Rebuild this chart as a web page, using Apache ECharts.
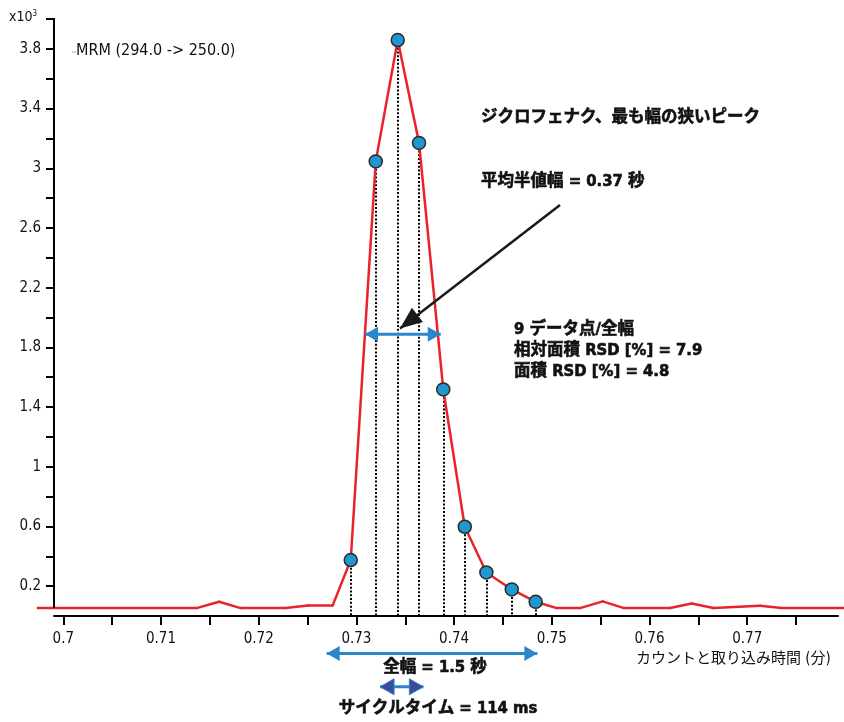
<!DOCTYPE html>
<html>
<head>
<meta charset="utf-8">
<script src="https://cdn.jsdelivr.net/npm/echarts@6/dist/echarts.min.js"></script>
<style>
  html, body { margin: 0; padding: 0; background: #fff; }
  #chart { width: 844px; height: 722px; }
</style>
</head>
<body>
<div id="chart"></div>
<script>
// Acquisition points across the diclofenac peak (time in min, counts x10^3)
const peakTime   = [0.72942, 0.73198, 0.73423, 0.73641, 0.73889, 0.74109, 0.74330, 0.74590, 0.74835];
const peakCounts = [0.375,   3.046,   3.859,   3.170,   1.518,   0.598,   0.292,   0.178,   0.095];

// Baseline trace before and after the peak
const leadTime   = [0.6974, 0.71365, 0.71594, 0.71816, 0.72276, 0.72502, 0.72757];
const leadCounts = [0.053,  0.053,   0.095,   0.053,   0.053,   0.071,   0.071];
const tailTime   = [0.7505, 0.75289, 0.75521, 0.75739, 0.7621, 0.76432, 0.76653, 0.77131, 0.77353, 0.7799];
const tailCounts = [0.053,  0.053,   0.098,   0.053,   0.053,  0.084,   0.053,   0.068,   0.053,   0.053];

// Axis ticks and labelled values
const xTicks      = [0.7, 0.705, 0.71, 0.715, 0.72, 0.725, 0.73, 0.735, 0.74, 0.745, 0.75, 0.755, 0.76, 0.765, 0.77, 0.775];
const xTickLabels = [0.7, 0.71, 0.72, 0.73, 0.74, 0.75, 0.76, 0.77];
const yTicks      = [0.2, 0.4, 0.6, 0.8, 1.0, 1.2, 1.4, 1.6, 1.8, 2.0, 2.2, 2.4, 2.6, 2.8, 3.0, 3.2, 3.4, 3.6, 3.8, 4.0];
const yTickLabels = [0.2, 0.6, 1.0, 1.4, 1.8, 2.2, 2.6, 3.0, 3.4, 3.8];

const NARROW = "'Liberation Sans Narrow', 'DejaVu Sans Condensed', Roboto, sans-serif";
const JP = "'Liberation Sans Narrow', 'DejaVu Sans Condensed', 'Noto Sans CJK JP', sans-serif";
const BLUE = '#2a87c9';
const RED = '#e8232a';
const X_MIN = 0.69905, X_MAX = 0.77929;
const Y_FLOOR = 0.053; // lowest point reached by the vertical axis line

const trace = [];
leadTime.forEach((t, i) => trace.push([t, leadCounts[i]]));
peakTime.forEach((t, i) => trace.push([t, peakCounts[i]]));
tailTime.forEach((t, i) => trace.push([t, tailCounts[i]]));

const points = peakTime.map((t, i) => [t, peakCounts[i]]);
const dropLines = peakTime.map((t, i) => [{ coord: [t, peakCounts[i]] }, { coord: [t, 0] }]);

const fmt = v => String(Math.round(v * 1000) / 1000);

const chart = echarts.init(document.getElementById('chart'), null, { renderer: 'canvas' });

chart.setOption({
  animation: false,
  backgroundColor: '#fff',
  grid: { left: 54, right: 6, top: 19, bottom: 106, containLabel: false },
  xAxis: {
    type: 'value',
    min: X_MIN,
    max: X_MAX,
    splitLine: { show: false },
    axisLine: { show: true, onZero: false, lineStyle: { color: '#000', width: 2 } },
    axisTick: { show: true, customValues: xTicks, length: 9, lineStyle: { color: '#000', width: 2 } },
    axisLabel: { customValues: xTickLabels, formatter: fmt, color: '#111', fontSize: 15, fontFamily: NARROW, margin: 16 }
  },
  yAxis: {
    type: 'value',
    min: 0,
    max: 4,
    splitLine: { show: false },
    axisLine: { show: false },
    axisTick: { show: true, customValues: yTicks, length: 8, lineStyle: { color: '#000', width: 2 } },
    axisLabel: { customValues: yTickLabels, formatter: fmt, color: '#111', fontSize: 15, fontFamily: NARROW, margin: 13 }
  },
  series: [
    {
      // chromatogram trace, drawn segment by segment so it may run past the axis ends
      type: 'custom',
      coordinateSystem: 'cartesian2d',
      clip: false,
      z: 3,
      data: trace,
      encode: { x: 0, y: 1 },
      renderItem: (params, api) => {
        const i = params.dataIndex;
        if (i >= trace.length - 1) return null;
        const a = api.coord(trace[i]);
        const b = api.coord(trace[i + 1]);
        return {
          type: 'line',
          shape: { x1: a[0], y1: a[1], x2: b[0], y2: b[1] },
          style: { stroke: RED, lineWidth: 2.5, lineCap: 'round' }
        };
      },
      markLine: {
        silent: true,
        symbol: ['none', 'none'],
        z: 2,
        label: { show: false },
        lineStyle: { color: '#000', width: 2, type: [2, 1.8] },
        data: dropLines
      }
    },
    {
      type: 'scatter',
      data: points,
      z: 10,
      symbolSize: 13,
      itemStyle: { color: '#1f98d2', borderColor: '#2a2a2a', borderWidth: 1.5, opacity: 1 }
    }
  ]
});

// Arrow helpers
function head(tip, from, len, halfW, fill, stroke) {
  const dx = tip[0] - from[0], dy = tip[1] - from[1];
  const d = Math.hypot(dx, dy);
  const ux = dx / d, uy = dy / d;
  const bx = tip[0] - ux * len, by = tip[1] - uy * len;
  return {
    type: 'polygon',
    shape: { points: [tip, [bx - uy * halfW, by + ux * halfW], [bx + uy * halfW, by - ux * halfW]] },
    style: { fill: fill, stroke: stroke || null, lineWidth: stroke ? 1 : 0 },
    z: 20
  };
}
function shaft(a, b, color, width) {
  return { type: 'line', shape: { x1: a[0], y1: a[1], x2: b[0], y2: b[1] }, style: { stroke: color, lineWidth: width }, z: 19 };
}
function doubleArrow(p1, p2, color, width, len, halfW, headFill, headStroke) {
  return [
    shaft(p1, p2, color, width),
    head(p1, p2, len, halfW, headFill || color, headStroke),
    head(p2, p1, len, halfW, headFill || color, headStroke)
  ];
}
const px = (t, c) => chart.convertToPixel({ gridIndex: 0 }, [t, c]);

const yAxisTop = px(X_MIN, 4), yAxisBottom = px(X_MIN, Y_FLOOR);
const blackTail = px(0.75084, 2.753);
const blackTip = px(0.73446, 1.927);
const fwhmL = px(0.73088, 1.887), fwhmR = px(0.73863, 1.887);
const fullL = px(0.72696, -0.2506), fullR = px(0.74852, -0.2506);
const cycL = px(0.73242, -0.4744), cycR = px(0.73685, -0.4744);

const boldJP = (text, x, y, align) => ({
  type: 'text', x: x, y: y, z: 30,
  style: { text: text, fill: '#111', stroke: '#111', lineWidth: 0.6, font: `bold 16.5px ${JP}`,
    textAlign: align || 'left', textVerticalAlign: 'middle' }
});

const graphics = [
  // vertical axis line, stopping at the baseline level
  { type: 'line', shape: { x1: yAxisTop[0], y1: yAxisTop[1] - 1, x2: yAxisBottom[0], y2: yAxisBottom[1] },
    style: { stroke: '#000', lineWidth: 2 }, z: 25 },
  // black pointer to half-height width
  shaft(blackTail, blackTip, '#1a1a1a', 2.5),
  head(blackTip, blackTail, 22, 9, '#1a1a1a'),
  ...doubleArrow(fwhmL, fwhmR, BLUE, 3, 13, 7.5),
  ...doubleArrow(fullL, fullR, BLUE, 3, 13, 7.5),
  ...doubleArrow(cycL, cycR, BLUE, 3, 14, 8, '#3c4a9e', BLUE),
  // y-axis multiplier
  { type: 'text', x: 9, y: 17, z: 30,
    style: { text: 'x10{s|3}', fill: '#111', font: `14px ${NARROW}`, textVerticalAlign: 'middle',
      rich: { s: { fontSize: 8, fontFamily: NARROW, verticalAlign: 'top', padding: [0, 0, 6, 0] } } } },
  // trace legend
  { type: 'line', shape: { x1: 72, y1: 52, x2: 76, y2: 52 }, style: { stroke: '#7fb2e0', lineWidth: 1 }, z: 30 },
  { type: 'text', x: 76, y: 51, z: 30,
    style: { text: 'MRM (294.0 -> 250.0)', fill: '#111', font: `16px ${NARROW}`, textVerticalAlign: 'middle' } },
  boldJP('ジクロフェナク、最も幅の狭いピーク', 481, 118),
  boldJP('平均半値幅 = 0.37 秒', 481, 182),
  boldJP('9 データ点/全幅', 514, 330),
  boldJP('相対面積 RSD [%] = 7.9', 514, 351),
  boldJP('面積 RSD [%] = 4.8', 514, 372),
  boldJP('全幅 = 1.5 秒', 435, 668, 'center'),
  boldJP('サイクルタイム = 114 ms', 438, 709, 'center'),
  { type: 'text', x: 636, y: 659, z: 30,
    style: { text: 'カウントと取り込み時間 (分)', fill: '#111', font: `15px ${JP}`, textVerticalAlign: 'middle' } }
];

chart.setOption({ graphic: graphics });
</script>
</body>
</html>
